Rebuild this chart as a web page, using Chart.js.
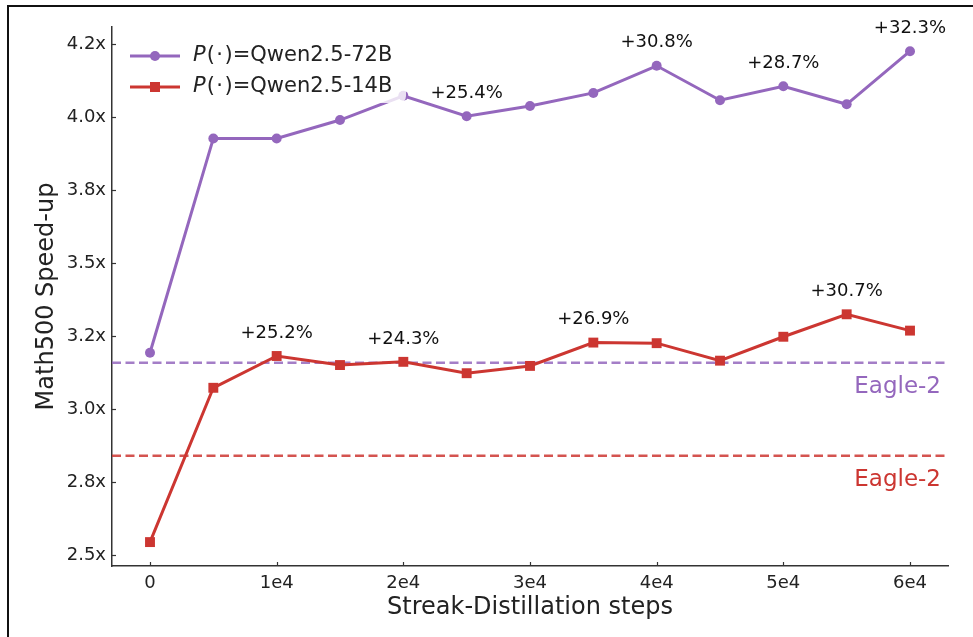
<!DOCTYPE html>
<html>
<head>
<meta charset="utf-8">
<script src="https://cdn.jsdelivr.net/npm/chart.js@4"></script>
<style>
    html, body { margin: 0; padding: 0; background: #fff; }
    #wrap { width: 973px; height: 637px; position: relative; }
</style>
</head>
<body>
<div id="wrap"><canvas id="chart"></canvas></div>
<script>
const steps = [0, 5000, 10000, 15000, 20000, 25000, 30000, 35000, 40000, 45000, 50000, 55000, 60000];
const speedup72B = [3.193, 3.928, 3.928, 3.991, 4.074, 4.004, 4.039, 4.084, 4.177, 4.059, 4.107, 4.045, 4.227];
const speedup14B = [2.544, 3.073, 3.182, 3.151, 3.162, 3.123, 3.148, 3.228, 3.226, 3.166, 3.248, 3.325, 3.269];
const eagle72B = 3.159;
const eagle14B = 2.840;

const gainSteps72B = [25000, 40000, 50000, 60000];
const gainText72B = ["+25.4%", "+30.8%", "+28.7%", "+32.3%"];
const gainSteps14B = [10000, 20000, 35000, 55000];
const gainText14B = ["+25.2%", "+24.3%", "+26.9%", "+30.7%"];

const xTicks = [0, 10000, 20000, 30000, 40000, 50000, 60000];
const xTickLabels = ["0", "1e4", "2e4", "3e4", "4e4", "5e4", "6e4"];
const yTicks = [2.5, 2.75, 3.0, 3.25, 3.5, 3.75, 4.0, 4.25];
const yTickLabels = ["2.5x", "2.8x", "3.0x", "3.2x", "3.5x", "3.8x", "4.0x", "4.2x"];

const PURPLE = "#9467bd";
const RED = "#cc3631";
const FONT = "'DejaVu Sans', sans-serif";
const INK = "#222";

const toPoints = (ys) => steps.map((x, i) => ({ x: x, y: ys[i] }));
const flatLine = (y) => [{ x: -3000, y: y }, { x: 63000, y: y }];

// gains text above points, baselines, legend, inward ticks and outer frame
const overlay = {
    id: "overlay",
    afterDatasetsDraw(chart) {
        const ctx = chart.ctx;
        const xs = chart.scales.x;
        const ys = chart.scales.y;
        const area = chart.chartArea;
        ctx.save();

        // inward tick marks
        ctx.strokeStyle = "#333";
        ctx.lineWidth = 1.2;
        xTicks.forEach((v) => {
            const px = Math.round(xs.getPixelForValue(v)) + 0.5;
            ctx.beginPath();
            ctx.moveTo(px, area.bottom);
            ctx.lineTo(px, area.bottom - 4);
            ctx.stroke();
        });
        yTicks.forEach((v) => {
            const py = Math.round(ys.getPixelForValue(v)) + 0.5;
            ctx.beginPath();
            ctx.moveTo(area.left, py);
            ctx.lineTo(area.left + 4, py);
            ctx.stroke();
        });

        // gain labels
        ctx.font = "18px " + FONT;
        ctx.fillStyle = "#111";
        ctx.textAlign = "center";
        ctx.textBaseline = "middle";
        const drawGains = (atSteps, texts, values) => {
            atSteps.forEach((s, i) => {
                const v = values[steps.indexOf(s)];
                ctx.fillText(texts[i], xs.getPixelForValue(s), ys.getPixelForValue(v) - 23);
            });
        };
        drawGains(gainSteps72B, gainText72B, speedup72B);
        drawGains(gainSteps14B, gainText14B, speedup14B);

        // baseline names
        ctx.font = "23px " + FONT;
        ctx.textAlign = "right";
        ctx.fillStyle = PURPLE;
        ctx.fillText("Eagle-2", area.right - 7, ys.getPixelForValue(eagle72B) + 24);
        ctx.fillStyle = RED;
        ctx.fillText("Eagle-2", area.right - 7, ys.getPixelForValue(eagle14B) + 24);

        // legend box
        ctx.fillStyle = "rgba(255,255,255,0.8)";
        ctx.beginPath();
        ctx.roundRect(118, 31, 288, 72, 7);
        ctx.fill();

        const rows = [
            { y: 56, color: PURPLE, marker: "circle", label: "=Qwen2.5-72B" },
            { y: 87, color: RED, marker: "square", label: "=Qwen2.5-14B" },
        ];
        rows.forEach((r) => {
            ctx.strokeStyle = r.color;
            ctx.fillStyle = r.color;
            ctx.lineWidth = 3;
            ctx.beginPath();
            ctx.moveTo(130, r.y);
            ctx.lineTo(180, r.y);
            ctx.stroke();
            ctx.beginPath();
            if (r.marker === "circle") {
                ctx.arc(155, r.y, 5, 0, Math.PI * 2);
            } else {
                ctx.rect(150, r.y - 5, 10, 10);
            }
            ctx.fill();

            // P(·) set like math text, then the model name
            ctx.fillStyle = INK;
            ctx.textAlign = "left";
            ctx.textBaseline = "middle";
            let x = 193;
            ctx.font = "italic 21px " + FONT;
            ctx.fillText("P", x, r.y);
            x += ctx.measureText("P").width + 1;
            ctx.font = "21px " + FONT;
            ctx.fillText("(", x, r.y);
            x += ctx.measureText("(").width + 1.5;
            ctx.fillText("\u00b7", x, r.y);
            x += ctx.measureText("\u00b7").width + 1.5;
            ctx.fillText(")", x, r.y);
            x += ctx.measureText(")").width;
            ctx.fillText(r.label, x, r.y);
        });

        ctx.restore();
    },
    afterDraw(chart) {
        const ctx = chart.ctx;
        ctx.save();
        ctx.strokeStyle = "#111";
        ctx.lineWidth = 2;
        ctx.beginPath();
        ctx.moveTo(8, 637);
        ctx.lineTo(8, 6);
        ctx.lineTo(973, 6);
        ctx.stroke();
        ctx.restore();
    },
};

new Chart(document.getElementById("chart"), {
    type: "line",
    data: {
        datasets: [
            {
                label: "P(·)=Qwen2.5-72B",
                data: toPoints(speedup72B),
                borderColor: PURPLE,
                backgroundColor: PURPLE,
                borderWidth: 3,
                pointStyle: "circle",
                pointRadius: 5,
                pointBorderWidth: 0,
                tension: 0,
                order: 1,
            },
            {
                label: "P(·)=Qwen2.5-14B",
                data: toPoints(speedup14B),
                borderColor: RED,
                backgroundColor: RED,
                borderWidth: 3,
                pointStyle: "rect",
                pointRadius: 7,
                pointBorderWidth: 0,
                tension: 0,
                order: 0,
            },
            {
                label: "Eagle-2 (72B)",
                data: flatLine(eagle72B),
                borderColor: "rgba(148,103,189,0.85)",
                borderWidth: 2.5,
                borderDash: [9, 4.5],
                pointRadius: 0,
                order: 5,
            },
            {
                label: "Eagle-2 (14B)",
                data: flatLine(eagle14B),
                borderColor: "rgba(204,54,49,0.85)",
                borderWidth: 2.5,
                borderDash: [9, 4.5],
                pointRadius: 0,
                order: 5,
            },
        ],
    },
    options: {
        responsive: true,
        maintainAspectRatio: false,
        animation: false,
        layout: { padding: { left: 0, top: 27, right: 25, bottom: 0 } },
        plugins: {
            legend: { display: false },
            tooltip: { enabled: false },
        },
        scales: {
            x: {
                type: "linear",
                min: -3000,
                max: 63000,
                afterBuildTicks: (scale) => {
                    scale.ticks = xTicks.map((v) => ({ value: v }));
                },
                afterFit: (scale) => {
                    scale.height = 71;
                },
                ticks: {
                    autoSkip: false,
                    maxRotation: 0,
                    padding: 7,
                    color: INK,
                    font: { family: FONT, size: 18 },
                    callback: (value) => xTickLabels[xTicks.indexOf(value)],
                },
                grid: { display: true, drawOnChartArea: false, drawTicks: false },
                border: { display: true, color: "#333", width: 1.5 },
                title: {
                    display: true,
                    text: "Streak-Distillation steps",
                    color: INK,
                    font: { family: FONT, size: 24 },
                    padding: { top: 0, bottom: 15 },
                },
            },
            y: {
                type: "linear",
                min: 2.462,
                max: 4.31,
                afterBuildTicks: (scale) => {
                    scale.ticks = yTicks.map((v) => ({ value: v }));
                },
                afterFit: (scale) => {
                    scale.width = 112;
                },
                ticks: {
                    autoSkip: false,
                    padding: 6,
                    color: INK,
                    font: { family: FONT, size: 18 },
                    callback: (value) => yTickLabels[yTicks.indexOf(value)],
                },
                grid: { display: true, drawOnChartArea: false, drawTicks: false },
                border: { display: true, color: "#333", width: 1.5 },
                title: {
                    display: true,
                    text: "Math500 Speed-up",
                    color: INK,
                    font: { family: FONT, size: 24 },
                    padding: { top: 32, bottom: 0 },
                },
            },
        },
    },
    plugins: [overlay],
});
</script>
</body>
</html>
